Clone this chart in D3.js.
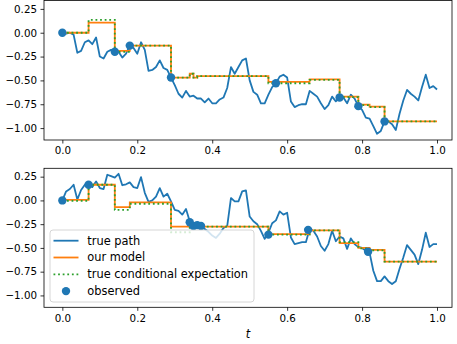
<!DOCTYPE html>
<html>
<head>
<meta charset="UTF-8">
<script src="https://d3js.org/d3.v7.min.js"></script>
<style>
  body { margin: 0; background: #fff; }
  svg { display: block; font-family: "DejaVu Sans", sans-serif; }
</style>
</head>
<body>
<svg width="457" height="344"></svg>
<script>
// time grid of the simulated path (101 points, 0..1)
const tGrid = d3.range(101).map(i => i / 100);

const pathTop = [0.00, -0.01, 0.00, -0.02, -0.21, -0.19, -0.10, -0.08, -0.12, -0.05,
  -0.25, -0.27, -0.20, -0.18, -0.19, -0.20, -0.26, -0.22, -0.135, -0.16,
  -0.22, -0.10, -0.18, -0.40, -0.39, -0.36, -0.29, -0.37, -0.39, -0.47,
  -0.55, -0.64, -0.68, -0.61, -0.67, -0.66, -0.69, -0.69, -0.73, -0.69,
  -0.74, -0.74, -0.70, -0.68, -0.58, -0.36, -0.43, -0.36, -0.29, -0.27,
  -0.50, -0.62, -0.65, -0.74, -0.74, -0.65, -0.57, -0.53, -0.46, -0.44,
  -0.47, -0.72, -0.78, -0.76, -0.75, -0.75, -0.61, -0.64, -0.67, -0.74,
  -0.80, -0.76, -0.67, -0.72, -0.68, -0.68, -0.74, -0.65, -0.69, -0.77,
  -0.81, -0.89, -0.90, -0.98, -1.06, -1.03, -0.93, -0.93, -0.96, -1.02,
  -0.85, -0.71, -0.60, -0.64, -0.67, -0.71, -0.57, -0.44, -0.58, -0.56, -0.595];

const pathBottom = [0.00, 0.095, 0.12, 0.165, 0.01, 0.11, 0.165, 0.17, 0.14, 0.20,
  0.13, 0.12, 0.27, 0.255, 0.24, 0.28, 0.16, 0.17, 0.19, 0.14,
  0.13, 0.245, 0.08, -0.015, 0.00, 0.04, 0.13, 0.04, 0.07, -0.01,
  -0.10, -0.11, -0.15, -0.09, -0.22, -0.26, -0.25, -0.28, -0.30, -0.33,
  -0.37, -0.395, -0.35, -0.29, -0.27, 0.025, -0.01, -0.01, 0.095, 0.105,
  -0.17, -0.22, -0.25, -0.32, -0.405, -0.34, -0.24, -0.21, -0.115, -0.15,
  -0.13, -0.39, -0.46, -0.45, -0.44, -0.44, -0.30, -0.32, -0.38, -0.48,
  -0.53, -0.46, -0.32, -0.43, -0.38, -0.40, -0.51, -0.40, -0.46, -0.49,
  -0.50, -0.53, -0.55, -0.74, -0.85, -0.85, -0.80, -0.85, -0.88, -0.85,
  -0.72, -0.60, -0.47, -0.52, -0.57, -0.67, -0.52, -0.34, -0.49, -0.46, -0.46];

// step functions (value holds from each time until the next)
const stepTimes = [0, 0.07, 0.14, 0.18, 0.29, 0.34, 0.35, 0.36, 0.55, 0.66, 0.74, 0.79, 0.82, 0.86, 1.0];
const modelTop = [0.0, 0.105, -0.19, -0.135, -0.47, -0.43, -0.47, -0.455, -0.515, -0.49, -0.67, -0.755, -0.775, -0.93, -0.93];
const condTop = [0.0, 0.135, -0.20, -0.135, -0.47, -0.43, -0.47, -0.455, -0.53, -0.495, -0.675, -0.76, -0.78, -0.93, -0.93];
const modelBottom = [0.005, 0.165, -0.07, -0.02, -0.275, -0.25, -0.28, -0.275, -0.355, -0.315, -0.45, -0.50, -0.52, -0.645, -0.645];
const condBottom = [-0.005, 0.165, -0.10, -0.035, -0.335, -0.26, -0.28, -0.275, -0.36, -0.315, -0.44, -0.505, -0.525, -0.645, -0.645];

const obsTopT = [0, 0.14, 0.18, 0.29, 0.57, 0.74, 0.79, 0.86];
const obsTopV = [0, -0.20, -0.135, -0.47, -0.53, -0.68, -0.77, -0.93];
const obsBottomT = [0, 0.07, 0.34, 0.35, 0.36, 0.37, 0.55, 0.656, 0.816];
const obsBottomV = [0, 0.165, -0.23, -0.27, -0.26, -0.27, -0.36, -0.31, -0.54];

const xTicks = [0, 0.2, 0.4, 0.6, 0.8, 1.0];
const yTicks = [0.25, 0, -0.25, -0.5, -0.75, -1.0];

const blue = '#1f77b4', orange = '#ff7f0e', green = '#2ca02c';
const svg = d3.select('svg');

const left = 44, right = 452;
const x = d3.scaleLinear().domain([-0.049, 1.04]).range([left, right]);

function panel(top, bottom, path, model, cond, obsT, obsV) {
  const y = d3.scaleLinear().domain([-1.125, 0.338]).range([bottom, top]);
  const g = svg.append('g');

  const line = d3.line().x(d => x(d[0])).y(d => y(d[1]));
  const step = d3.line().x(d => x(d[0])).y(d => y(d[1])).curve(d3.curveStepAfter);

  g.append('path').datum(tGrid.map((t, i) => [t, path[i]]))
    .attr('d', line).attr('fill', 'none').attr('stroke', blue).attr('stroke-width', 1.8)
    .attr('stroke-linejoin', 'round');
  g.append('path').datum(stepTimes.map((t, i) => [t, model[i]]))
    .attr('d', step).attr('fill', 'none').attr('stroke', orange).attr('stroke-width', 1.8);
  g.append('path').datum(stepTimes.map((t, i) => [t, cond[i]]))
    .attr('d', step).attr('fill', 'none').attr('stroke', green).attr('stroke-width', 1.8)
    .attr('stroke-dasharray', '1.8,2.8');
  g.selectAll('circle').data(obsT).enter().append('circle')
    .attr('cx', d => x(d)).attr('cy', (d, i) => y(obsV[i])).attr('r', 4.2).attr('fill', blue);

  g.append('rect').attr('x', left).attr('y', top).attr('width', right - left).attr('height', bottom - top)
    .attr('fill', 'none').attr('stroke', '#000').attr('stroke-width', 0.8);

  const ax = g.append('g').attr('transform', `translate(0,${bottom})`)
    .call(d3.axisBottom(x).tickValues(xTicks).tickFormat(d3.format('.1f')).tickSize(3.5).tickPadding(3.5));
  const ay = g.append('g').attr('transform', `translate(${left},0)`)
    .call(d3.axisLeft(y).tickValues(yTicks).tickFormat(d3.format('.2f')).tickSize(3.5).tickPadding(3.5));
  [ax, ay].forEach(a => {
    a.select('.domain').remove();
    a.selectAll('line').attr('stroke', '#000').attr('stroke-width', 0.8);
    a.selectAll('text').attr('font-size', 10.3).attr('fill', '#000').attr('font-family', 'DejaVu Sans');
  });
  return y;
}

panel(0.5, 140, pathTop, modelTop, condTop, obsTopT, obsTopV);
panel(168.3, 307.3, pathBottom, modelBottom, condBottom, obsBottomT, obsBottomV);

// x label
svg.append('text').attr('x', 248).attr('y', 338).attr('text-anchor', 'middle')
  .attr('font-size', 11.4).attr('font-style', 'italic').text('t');

// legend
const legendLabels = ['true path', 'our model', 'true conditional expectation', 'observed'];
const lg = svg.append('g');
lg.append('rect').attr('x', 50).attr('y', 230).attr('width', 204).attr('height', 72).attr('rx', 3)
  .attr('fill', 'white').attr('fill-opacity', 0.8).attr('stroke', '#cccccc').attr('stroke-width', 0.8);
legendLabels.forEach((lab, i) => {
  const yy = 240.7 + i * 16.8;
  if (i < 3) {
    const ln = lg.append('line').attr('x1', 53.5).attr('x2', 78.5).attr('y1', yy).attr('y2', yy)
      .attr('stroke', [blue, orange, green][i]).attr('stroke-width', 1.8);
    if (i === 2) ln.attr('stroke-dasharray', '1.8,2.8');
  } else {
    lg.append('circle').attr('cx', 66).attr('cy', yy).attr('r', 4.2).attr('fill', blue);
  }
  lg.append('text').attr('x', 87.3).attr('y', yy).attr('dy', '0.35em')
    .attr('font-size', 11.4).attr('fill', '#000').text(lab);
});
</script>
</body>
</html>
